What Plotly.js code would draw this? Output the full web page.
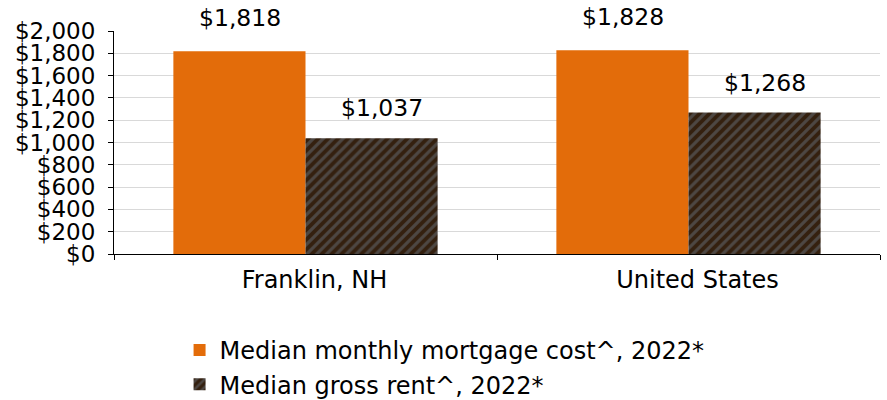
<!DOCTYPE html>
<html><head><meta charset="utf-8">
<script src="https://cdn.plot.ly/plotly-3.0.1.min.js"></script>
<style>body{margin:0;padding:0;background:#fff}#chart{width:887px;height:400px}</style>
</head><body><div id="chart"></div>
<script>
const categories = ["Franklin, NH", "United States"];
const mortgage = [1818, 1828];
const rent = [1037, 1268];
const seriesNames = ["Median monthly mortgage cost^, 2022*", "Median gross rent^, 2022*"];
const yTickVals = [0, 200, 400, 600, 800, 1000, 1200, 1400, 1600, 1800, 2000];

const fmt = v => "$" + v.toLocaleString("en-US");
const FONT = "DejaVu Sans, sans-serif";
const FS = 24;

const traces = [
  {type: "bar", name: seriesNames[0], x: categories, y: mortgage,
   marker: {color: "#e36c0a", line: {width: 0}}, hoverinfo: "y"},
  {type: "bar", name: seriesNames[1], x: categories, y: rent,
   marker: {color: "#3b2412", line: {width: 0},
     pattern: {shape: "/", fgcolor: "#4d4743", bgcolor: "#34200f", size: 7, solidity: 0.45, fillmode: "replace"}},
   hoverinfo: "y"}
];

const annotations = [];
[mortgage, rent].forEach((arr, si) => {
  arr.forEach((v, i) => {
    annotations.push({x: categories[i], y: v, xref: "x", yref: "y", text: fmt(v),
      showarrow: false, xshift: si === 0 ? -66 : 76, yshift: si === 0 ? 33 : 30,
      font: {family: FONT, size: 23.5, color: "#000"}});
  });
});

const layout = {
  width: 887, height: 400,
  margin: {l: 114, r: 7, t: 31, b: 146},
  paper_bgcolor: "#fff", plot_bgcolor: "#fff",
  barmode: "group", bargap: 0.31, bargroupgap: 0,
  font: {family: FONT, size: FS, color: "#000"},
  xaxis: {type: "category", showline: true, linecolor: "#000", linewidth: 1,
    ticks: "outside", tickson: "boundaries", ticklen: 5, tickcolor: "#000",
    ticklabelstandoff: 4, ticklabelshift: 9, automargin: false,
    tickfont: {family: FONT, size: FS, color: "#000"}, showgrid: false},
  yaxis: {range: [0, 2000], tickvals: yTickVals, ticktext: yTickVals.map(fmt),
    showline: true, linecolor: "#000", linewidth: 1, ticks: "outside", ticklen: 5, tickcolor: "#000",
    ticklabelstandoff: 8, automargin: false,
    gridcolor: "#d9d9d9", gridwidth: 1, zeroline: false,
    tickfont: {family: FONT, size: 23, color: "#000"}},
  showlegend: true,
  legend: {orientation: "v", x: 0.0856, xanchor: "left", yref: "container", y: 1 - 328/400, yanchor: "top",
    font: {family: FONT, size: FS, color: "#000"}, tracegroupgap: 0, itemwidth: 30},
  annotations: annotations
};

Plotly.newPlot("chart", traces, layout, {displayModeBar: false, staticPlot: true});
</script></body></html>
